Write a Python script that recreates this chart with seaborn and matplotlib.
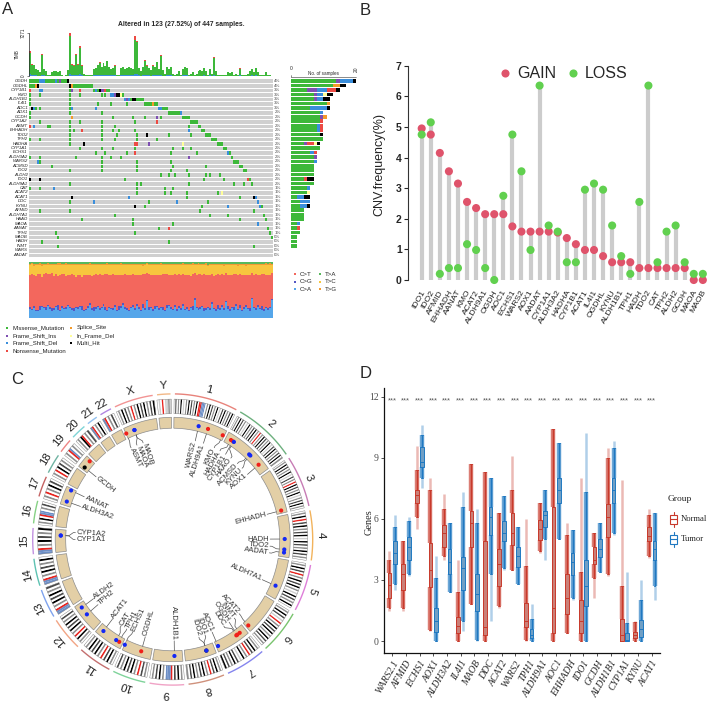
import numpy as np
import pandas as pd
import matplotlib
matplotlib.use("Agg")
import matplotlib.pyplot as plt
from matplotlib.colors import ListedColormap, to_rgb
import seaborn as sns

# ======================= DATA: panel A (oncoplot) =======================
GENES_A = ["OGDH", "OGDHL", "CYP1B1", "KMO", "ALDH1B1", "IL4I1", "AOC1", "AOX1", "GCDH", "CYP1A2",
           "ASMT", "EHHADH", "TDO2", "TPH2", "HADHA", "CYP1A1", "ECHS1", "ALDH3A2", "WARS2", "ACMSD",
           "IDO2", "ALDH2", "IDO1", "ALDH9A1", "CAT", "ACAT2", "ACAT1", "DDC", "KYNU", "AFMID",
           "ALDH7A1", "HAAO", "MAOA", "AANAT", "TPH1", "MAOB", "HADH", "INMT", "WARS", "AADAT"]
PCT_A = [4, 4, 3, 3, 3, 3, 3, 2, 2, 2, 2, 2, 2, 2, 2, 2, 2, 2, 2, 2,
         2, 2, 2, 2, 1, 1, 1, 1, 1, 1, 1, 1, 1, 1, 1, 0, 0, 0, 0, 0]
# sample columns (0..122) + variant code: M missense, I fs_ins, D fs_del, N nonsense, S splice, F inframe_del, H multi
ONCO_CELLS = [
    "0-19M 5D 6D 7D 13D 15I 19H",
    "0-2M 3S 4H 20H 21S 22-31M",
    "0N 5D 6D 20M 21I 25N 32M 33D 34M 35H 36I 37I 38N 39M 40M",
    "0M 5M 20M 25M 36M 38M 41D 42D 43I 44H 45H 46F 47M",
    "0M 20M 48D 49I 50D 51M 52H 53H 54-57M",
    "0M 20M 34M 41M 49M 58-61M 62S 63-64M",
    "1H 2D 3M 5M 20M 21D 33D 65D 66D 67-69M",
    "0M 20M 36M 70-75M 76D",
    "0M 21S 42M 52M 58M 64I 66M 77-80M",
    "5M 20M 25M 36M 53M 64N 81-84M",
    "0N 2D 9M 10M 20M 36M 43M 80M 85-86M",
    "20M 22M 26N 36M 42M 45M 53M 80D 87-88M",
    "20M 36M 44M 54M 59H 70M 81M 89-91M",
    "0M 5M 20M 36M 43M 54M 64M 92-94M",
    "20M 27H 53N 54N 60I 77F 95-97M",
    "25M 36M 42M 53M 72M 77M 81M 98-99M",
    "33M 38M 49M 53N 71M 84M 100D 101M",
    "0M 5M 23M 36M 41M 46M 80I 102M",
    "4D 5M 36M 54M 71M 103-105M",
    "11M 36M 54M 72M 89M 106-107M",
    "20M 36M 54M 71M 79M 108-109M",
    "66M 70M 73M 80M 89M 91M 96M",
    "0H 5H 48M 88M 98M 110N 111M",
    "20M 54M 56M 80M 103M 108M 112M",
    "0M 5M 12D 54M 68M 72M",
    "54M 68M 71M 79M 95M 97F",
    "21H 50D 79M 106M 113H 114D",
    "20M 32D 60M 74D 90M 115D",
    "53H 58M 87M 100D 116D 117M",
    "5M 20M 86M 113M",
    "43M 91M 100M 118M",
    "26M 52M 106M 119M",
    "52M 72M 115D",
    "65M 70N 120M",
    "13M 53M 121M",
    "14M 122M",
    "6M 70M",
    "14M 113M",
    "",
    "",
]
TMB_TOTAL = [4200, 2000, 1900, 1200, 1000, 600, 3800, 1100, 900, 200,
             100, 700, 800, 800, 700, 800, 100, 50, 100, 1000,
             7271, 2000, 1800, 3800, 2000, 5000, 1800, 300, 200, 100,
             200, 150, 1200, 1300, 1900, 2300, 1500, 2200, 1700, 2600,
             1600, 1200, 1400, 1800, 200, 100, 1300, 1500, 1200, 1300,
             1500, 1400, 1200, 6700, 6000, 1300, 800, 1500, 2700, 1800,
             1400, 1000, 1800, 1500, 2400, 1200, 3600, 1000, 300, 1500,
             1200, 1500, 400, 200, 300, 900, 200, 1100, 1500, 1400,
             100, 300, 700, 100, 300, 900, 1000, 900, 1300, 900,
             200, 1100, 300, 3200, 900, 200, 100, 100, 200, 100,
             700, 500, 700, 200, 300, 100, 1300, 200, 100, 100,
             400, 900, 1100, 700, 1300, 600, 100, 200, 100, 700,
             200, 100, 50]
TMB_FSDEL = [300, 150, 150, 100, 80, 50, 250, 90, 70, 20, 10, 60, 60, 60, 60, 60, 10, 5, 10, 80,
             400, 150, 150, 250, 150, 300, 140, 25, 20, 10, 20, 15, 100, 100, 150, 180, 120, 170, 130, 200,
             130, 100, 110, 140, 20, 10, 100, 120, 100, 100, 120, 110, 100, 400, 350, 100, 60, 120, 200, 140,
             110, 80, 140, 120, 180, 100, 250, 80, 25, 120, 100, 120, 30, 20, 25, 70, 20, 90, 120, 110,
             10, 25, 60, 10, 25, 70, 80, 70, 100, 70, 20, 90, 25, 220, 70, 20, 10, 10, 20, 10,
             60, 40, 60, 20, 25, 10, 100, 20, 10, 10, 30, 70, 90, 60, 100, 50, 10, 20, 10, 60,
             20, 10, 5]
TMB_NONSENSE = [300, 80, 60, 0, 0, 0, 300, 0, 0, 0, 0, 0, 0, 0, 0, 0, 0, 0, 0, 0,
                500, 120, 100, 250, 100, 300, 80, 0, 0, 0, 0, 0, 0, 0, 60, 80, 0, 80, 0, 100,
                0, 0, 0, 60, 0, 0, 0, 0, 0, 0, 0, 0, 0, 600, 300, 0, 0, 0, 150, 60,
                0, 0, 60, 0, 100, 0, 200, 0, 0, 0, 0, 0, 0, 0, 0, 0, 0, 0, 0, 0,
                0, 0, 0, 0, 0, 0, 0, 0, 0, 0, 0, 0, 0, 150, 0, 0, 0, 0, 0, 0,
                0, 0, 0, 0, 0, 0, 60, 0, 0, 0, 0, 0, 0, 0, 0, 0, 0, 0, 0, 0,
                0, 0, 0]
TITV_CA = [16, 14, 18, 13, 12, 15, 20, 17, 14, 22, 16, 13, 15, 19, 14, 12, 18, 16, 15, 21,
           17, 14, 13, 18, 16, 20, 15, 12, 14, 17, 23, 15, 13, 16, 19, 14, 18, 22, 15, 13,
           17, 16, 14, 20, 13, 15, 18, 24, 16, 14, 12, 17, 19, 15, 21, 16, 13, 18, 14, 30,
           15, 17, 13, 16, 20, 14, 18, 15, 12, 17, 22, 16, 14, 19, 13, 17, 15, 21, 14, 16,
           12, 18, 15, 33, 17, 14, 16, 20, 13, 15, 18, 14, 25, 16, 13, 17, 15, 19, 14, 28,
           16, 13, 18, 15, 22, 14, 17, 12, 16, 19, 15, 13, 34, 17, 14, 20, 16, 15, 13, 18,
           14, 17, 32]
TITV_CG = [3, 2, 4, 2, 3, 6, 2, 3, 5, 2, 3, 4, 2, 3, 8, 2, 3, 2, 4, 3,
           2, 3, 5, 2, 3, 2, 6, 3, 2, 4, 3, 2, 7, 3, 2, 4, 2, 3, 5, 2,
           3, 2, 4, 3, 2, 6, 3, 2, 4, 3, 2, 3, 5, 2, 4, 3, 2, 8, 3, 2,
           4, 2, 3, 5, 2, 3, 2, 4, 3, 6, 2, 3, 2, 4, 3, 5, 2, 3, 2, 4,
           3, 2, 6, 3, 2, 4, 3, 2, 5, 3, 2, 4, 3, 2, 3, 6, 2, 4, 3, 2,
           5, 3, 2, 4, 2, 3, 6, 2, 3, 4, 2, 5, 3, 2, 4, 3, 2, 6, 3, 2,
           4, 3, 2]
TITV_CT = [58, 62, 55, 60, 64, 57, 52, 59, 61, 54, 60, 63, 58, 56, 50, 62, 57, 60, 55, 53,
           58, 61, 59, 54, 57, 55, 52, 62, 60, 56, 51, 58, 57, 59, 55, 61, 56, 52, 58, 63,
           57, 59, 60, 53, 62, 56, 55, 50, 58, 60, 63, 57, 54, 59, 52, 58, 61, 54, 60, 48,
           59, 57, 61, 56, 54, 60, 57, 59, 63, 55, 52, 58, 60, 55, 61, 56, 59, 53, 60, 57,
           62, 55, 58, 46, 57, 60, 59, 54, 61, 58, 56, 60, 50, 57, 61, 56, 59, 55, 60, 49,
           56, 60, 57, 59, 53, 61, 55, 62, 58, 54, 57, 60, 45, 56, 59, 53, 58, 57, 61, 55,
           59, 57, 47]
TITV_TC = [17, 18, 16, 20, 16, 17, 19, 15, 15, 17, 16, 15, 19, 16, 20, 18, 16, 17, 19, 18,
           17, 16, 18, 20, 18, 17, 21, 17, 18, 17, 18, 19, 17, 16, 18, 15, 19, 17, 16, 17,
           18, 17, 16, 18, 17, 18, 19, 18, 16, 17, 17, 18, 16, 18, 17, 17, 18, 15, 17, 16,
           16, 18, 17, 17, 18, 17, 18, 16, 17, 16, 18, 17, 18, 16, 17, 16, 18, 17, 18, 17,
           17, 19, 16, 14, 18, 17, 16, 18, 16, 18, 17, 17, 16, 18, 17, 16, 18, 17, 16, 15,
           17, 18, 17, 16, 17, 16, 17, 18, 17, 16, 18, 17, 14, 17, 16, 18, 17, 16, 17, 18,
           17, 18, 15]
TITV_TG = [3, 2, 4, 2, 2, 3, 3, 2, 2, 3, 2, 2, 3, 2, 3, 3, 2, 2, 3, 2,
           2, 3, 2, 3, 2, 3, 2, 3, 2, 2, 3, 2, 3, 2, 3, 2, 2, 3, 2, 3,
           2, 3, 2, 3, 2, 2, 3, 2, 3, 2, 3, 2, 3, 2, 3, 2, 2, 3, 2, 2,
           3, 2, 3, 2, 3, 2, 3, 2, 2, 3, 2, 3, 2, 3, 2, 3, 2, 3, 2, 2,
           3, 2, 3, 2, 2, 3, 2, 3, 2, 3, 2, 3, 2, 2, 3, 2, 3, 2, 3, 2,
           2, 3, 2, 3, 2, 3, 2, 3, 2, 3, 2, 2, 3, 2, 3, 2, 3, 2, 2, 3,
           2, 3, 2]
TITV_TA = [3, 2, 3, 3, 3, 2, 4, 4, 3, 2, 3, 3, 3, 4, 2, 2, 4, 3, 2, 3,
           4, 3, 3, 3, 4, 3, 3, 3, 4, 4, 2, 4, 3, 4, 3, 4, 3, 3, 4, 2,
           3, 3, 4, 3, 4, 3, 2, 4, 3, 4, 3, 3, 3, 4, 3, 4, 3, 4, 3, 2,
           3, 4, 3, 4, 3, 4, 2, 4, 3, 3, 4, 3, 4, 3, 4, 3, 4, 2, 3, 4,
           3, 4, 2, 3, 4, 2, 4, 3, 3, 2, 5, 3, 4, 4, 3, 4, 3, 3, 4, 3,
           4, 3, 4, 3, 3, 4, 3, 3, 4, 4, 3, 4, 3, 4, 3, 4, 3, 4, 3, 2,
           4, 2, 3]
VC_NAMES = ["Missense_Mutation", "Frame_Shift_Ins", "Frame_Shift_Del", "Nonsense_Mutation",
            "Splice_Site", "In_Frame_Del", "Multi_Hit"]
TITV_NAMES = ["C>T", "C>G", "C>A", "T>A", "T>C", "T>G"]

# ======================= DATA: panel B (CNV lollipop) =======================
GENES_B = ["IDO1", "IDO2", "AFMID", "EHHADH", "AANAT", "KMO", "ACAT2", "ALDH9A1", "OGDH", "AOC1",
           "ECHS1", "WARS2", "AOX1", "AADAT", "CYP1A1", "ALDH3A2", "HADHA", "CYP1B1", "ACAT1", "IL4I1",
           "OGDHL", "KYNU", "ALDH1B1", "TPH1", "HADH", "TDO2", "CAT", "TPH2", "ALDH2", "GCDH",
           "MAOA", "MAOB"]
GAIN_B = [4.95, 4.75, 4.15, 3.55, 3.15, 2.55, 2.35, 2.15, 2.15, 2.15,
          1.75, 1.58, 1.58, 1.58, 1.58, 1.55, 1.37, 1.17, 0.98, 0.98,
          0.78, 0.58, 0.58, 0.58, 0.39, 0.39, 0.39, 0.39, 0.39, 0.39,
          0.0, 0.0]
LOSS_B = [4.75, 5.15, 0.2, 0.39, 0.39, 1.17, 0.98, 0.39, 0.0, 2.75,
          4.75, 3.55, 0.98, 6.35, 1.78, 1.58, 0.58, 0.58, 2.95, 3.15,
          2.95, 1.78, 0.78, 0.2, 2.55, 6.35, 0.58, 1.58, 1.78, 0.58,
          0.2, 0.2]

# ======================= DATA: panel C (circos) =======================
CHR_NAMES = [str(i) for i in range(1, 23)] + ["X", "Y"]
CHR_LEN = [249, 242, 198, 190, 181, 171, 159, 145, 138, 134, 135, 133,
           114, 107, 102, 90, 83, 80, 59, 64, 47, 51, 156, 57]
CHR_ARC_COLORS = ["#E8837B", "#6DB07E", "#C77CB5", "#F2B35C", "#DE7FD9", "#79C46E", "#8585EE", "#CF917C",
                  "#F0A3C6", "#7FD39A", "#C46F6F", "#F2A585", "#7FA3EE", "#5EC2B2", "#C291E0", "#86D184",
                  "#C46262", "#6FB3A2", "#EE8585", "#7ED4D6", "#93C2F0", "#B186E0", "#F29494", "#F2B887"]
CHR_BANDS = ["wdwgwbwlwgwbwdwgwbwrrvvvwgwbwdwgwbwlwdwbwgwdwbw",
             "wgwbwdwgwlwbwgwdwbwgwrwgwbwdwgwbwlwdwbwgwdwbwg",
             "wgwbwdwgwbwlwdwgwrwbwdwgwbwlwgwdwbwgw",
             "wgwbwrwdwbwgwdwbwlwbwdwgwbwdwgw",
             "wgwbwdwrwgwbwdwbwgwlwbwdwgwbw",
             "wgwbwdwlwrwgwbwdwbwgwbwdwgw",
             "wgwbwdwrwgwbwlwdwbwgwdwb",
             "wgwbwdwrwgwbwdwgwbwdwg",
             "wgwbwdwrvvvwgwbwdwgw",
             "wgwdwrwgwbwdwbwgwdw",
             "wgwbwdwrwgwbwdwbwgw",
             "wgwbwrwgwbwdwbwgwdw",
             "vvrwgwbwdwbwgwd",
             "vvrwgwbwdwgwbw",
             "vvrwgwbwdwgwb",
             "wgwbwrvvwgwdw",
             "wgwrwgwbwdw",
             "wgwrwbwdwgw",
             "wgwrvwgw",
             "wgwbrwgwd",
             "vrwgwbw",
             "vrwgwdw",
             "wgwbwdwgwrwgwbwdwbwgwdwb",
             "wlwrwllgl"]
CIRC_GENES = ["WARS2", "ALDH9A1", "KMO", "HADHA", "CYP1B1", "HAAO", "ACMSD", "KYNU", "AOX1", "EHHADH",
              "HADH", "TDO2", "AADAT", "ALDH7A1", "ACAT2", "INMT", "OGDH", "DDC", "AOC1", "IDO1",
              "IDO2", "ALDH1B1", "OGDHL", "ECHS1", "TPH1", "CAT", "ACAT1", "TPH2", "ALDH2", "CYP1A1",
              "CYP1A2", "ALDH3A2", "AANAT", "GCDH", "IL4I1", "ASMT", "MAOA", "MAOB"]
CIRC_CHR = ["1", "1", "1", "2", "2", "2", "2", "2", "2", "3",
            "4", "4", "4", "5", "6", "7", "7", "7", "7", "8",
            "8", "9", "10", "10", "11", "11", "11", "12", "12", "15",
            "15", "17", "17", "19", "19", "X", "X", "X"]
CIRC_POS = [119.1, 165.6, 241.5, 26.2, 38.1, 42.8, 135.4, 142.9, 200.6, 185.2,
            108.0, 155.9, 170.1, 126.5, 159.8, 30.8, 44.7, 50.5, 150.5, 39.8,
            39.9, 38.4, 49.6, 133.2, 18.0, 34.5, 108.1, 72.0, 111.8, 75.0,
            75.1, 19.6, 74.5, 12.9, 49.9, 1.6, 43.6, 43.7]
CIRC_KIND = ["loss", "gain", "gain", "gain", "gain", "loss", "loss", "loss", "gain", "gain",
             "loss", "loss", "loss", "loss", "gain", "gain", "gain", "gain", "loss", "both",
             "loss", "loss", "gain", "loss", "gain", "loss", "loss", "loss", "loss", "loss",
             "loss", "loss", "loss", "both", "gain", "gain", "loss", "loss"]
CIRC_LABELED = [True] * 34 + [False] + [True] * 3

# ======================= DATA: panel D (boxplots) =======================
GENES_D = ["WARS2.1", "AFMID", "ECHS1", "AOX1", "ALDH3A2", "IL4I1", "MAOB", "DDC", "ACAT2", "WARS2",
           "TPH1", "ALDH9A1", "AOC1", "EHHADH", "IDO1", "GCDH", "ALDH1B1", "CYP1A1", "KYNU", "ACAT1"]
# per group: [points min, whisker low, Q1, median, Q3, whisker high, points max]
NORMAL_STATS = [[1.5, 1.6, 2.1, 2.75, 3.33, 4.0, 4.4],
                [1.5, 1.6, 2.5, 3.3, 3.8, 4.9, 4.9],
                [5.5, 6.1, 6.8, 7.15, 7.4, 8.4, 9.6],
                [0.5, 0.55, 2.67, 3.5, 4.8, 7.4, 8.0],
                [4.0, 4.2, 4.64, 5.3, 5.7, 6.5, 7.2],
                [0.0, 0.0, 0.38, 0.75, 1.2, 2.4, 4.0],
                [1.8, 1.8, 4.6, 5.8, 6.4, 8.7, 8.7],
                [0.0, 0.0, 0.3, 0.7, 4.9, 8.3, 8.3],
                [1.6, 1.7, 2.7, 3.8, 4.5, 6.3, 6.3],
                [3.5, 3.5, 4.7, 5.3, 6.3, 7.4, 9.1],
                [0.0, 0.05, 0.7, 1.0, 1.85, 3.7, 6.0],
                [4.3, 4.4, 4.95, 5.5, 5.95, 6.8, 6.8],
                [0.0, 0.0, 0.38, 1.6, 6.6, 10.4, 10.4],
                [0.4, 0.4, 1.35, 2.1, 3.3, 5.2, 5.8],
                [0.0, 0.0, 0.4, 1.0, 2.0, 3.4, 8.0],
                [2.1, 3.1, 3.8, 4.0, 4.6, 5.3, 5.3],
                [3.2, 3.3, 5.1, 6.1, 6.75, 9.0, 9.5],
                [0.0, 0.0, 0.0, 0.3, 1.1, 2.7, 7.9],
                [0.0, 0.0, 0.15, 0.3, 0.45, 0.95, 1.0],
                [4.1, 4.2, 4.9, 5.15, 5.6, 6.2, 6.5]]
TUMOR_STATS = [[2.5, 2.8, 3.8, 4.3, 4.9, 5.6, 6.2],
               [3.2, 3.3, 4.0, 4.6, 5.1, 5.9, 6.1],
               [7.5, 8.0, 8.57, 8.8, 9.55, 10.1, 10.6],
               [0.0, 0.0, 0.46, 1.0, 1.6, 3.1, 4.2],
               [2.4, 2.4, 3.3, 3.9, 4.5, 5.8, 5.8],
               [0.5, 1.0, 2.5, 3.6, 4.15, 6.6, 7.3],
               [0.0, 0.05, 1.5, 2.3, 3.3, 5.8, 6.5],
               [1.0, 3.3, 5.2, 6.1, 6.6, 8.0, 8.0],
               [3.5, 3.6, 4.9, 5.3, 5.9, 7.1, 7.1],
               [2.8, 2.8, 3.65, 4.2, 4.6, 5.6, 5.6],
               [0.0, 0.0, 0.13, 0.3, 0.6, 1.1, 1.8],
               [4.0, 5.0, 5.6, 6.2, 6.4, 7.4, 7.4],
               [5.0, 5.0, 6.8, 7.4, 8.0, 9.7, 9.7],
               [2.0, 2.1, 3.25, 3.9, 4.3, 5.45, 5.45],
               [0.0, 0.0, 1.7, 2.7, 4.0, 7.3, 10.2],
               [3.4, 3.4, 4.15, 4.5, 5.0, 5.8, 5.8],
               [5.2, 5.3, 6.8, 7.4, 8.0, 9.5, 9.8],
               [0.0, 0.0, 0.0, 0.05, 0.4, 0.9, 3.4],
               [0.0, 0.0, 0.2, 0.6, 1.05, 2.0, 3.0],
               [2.0, 2.7, 4.0, 4.5, 4.9, 6.3, 6.3]]
GROUPS = ["Normal", "Tumor"]

# ======================= FIGURE =======================
sns.set_style("white")
plt.rcParams['font.family'] = ['Liberation Sans', 'DejaVu Sans']
SERIF = ['Liberation Serif', 'DejaVu Serif']

W, H = 708, 702
fig = plt.figure(figsize=(W / 100, H / 100), dpi=100)


def add_ax(x0, y0, x1, y1, **kw):
    return fig.add_axes([x0 / W, 1 - y1 / H, (x1 - x0) / W, (y1 - y0) / H], **kw)


ov = fig.add_axes([0, 0, 1, 1], zorder=20)
ov.set_xlim(0, W)
ov.set_ylim(H, 0)
ov.axis('off')

# ---------------------------------------------------------------- panel A
VC_CODES = "MIDNSFH"
VC_COLORS = ['#3DB83A', '#7E4FB2', '#3A8EDB', '#EC4A43', '#F39A2B', '#FFFF99', '#000000']
BG = '#D0D0D0'
ncol = len(TMB_TOTAL)
mat = np.zeros((len(GENES_A), ncol), dtype=int)
for gi, cells in enumerate(ONCO_CELLS):
    for tok in cells.split():
        span, kind = tok[:-1], tok[-1]
        a, _, b = span.partition('-')
        a = int(a)
        b = int(b) if b else a
        mat[gi, a:b + 1] = VC_CODES.index(kind) + 1

ax_on = add_ax(29.3, 79, 272.7, 257)
sns.heatmap(mat, ax=ax_on, cmap=ListedColormap([BG] + VC_COLORS), vmin=-0.5, vmax=7.5,
            cbar=False, xticklabels=False, yticklabels=False)
for k in range(1, len(GENES_A)):
    ax_on.axhline(k, color='white', lw=0.7)
for gi, (g, p) in enumerate(zip(GENES_A, PCT_A)):
    ax_on.text(-0.8, gi + 0.5, g, ha='right', va='center', fontsize=3.2, style='italic', color='#222222')
    ax_on.text(ncol + 0.8, gi + 0.5, f"{p}%", ha='left', va='center', fontsize=3.2, color='#444444')

xs = np.arange(ncol) + 0.5
tot = np.array(TMB_TOTAL, float)
dl = np.array(TMB_FSDEL, float)
nsn = np.array(TMB_NONSENSE, float)
ms = tot - dl - nsn
ax_t = add_ax(29.3, 33, 272.7, 76)
bar_kw = dict(width=1.0, lw=0, antialiased=False)
ax_t.bar(xs, dl, color=VC_COLORS[2], **bar_kw)
ax_t.bar(xs, ms, bottom=dl, color=VC_COLORS[0], **bar_kw)
ax_t.bar(xs, nsn, bottom=dl + ms, color=VC_COLORS[3], **bar_kw)
ax_t.set_xlim(0, ncol)
ax_t.set_ylim(0, 7271)
for s in ['top', 'right', 'bottom']:
    ax_t.spines[s].set_visible(False)
ax_t.spines['left'].set_linewidth(0.5)
ax_t.set_xticks([])
ax_t.set_yticks([0, 7271])
ax_t.set_yticklabels(['0', '7271'], fontsize=3.3, rotation=90, va='center')
ax_t.tick_params(axis='y', left=True, length=1.5, width=0.4, pad=0.8)
ax_t.set_ylabel('TMB', fontsize=3.3, labelpad=1)

ax_tv = add_ax(29.3, 262, 272.7, 318)
titv = np.array([TITV_CA, TITV_CG, TITV_CT, TITV_TC, TITV_TG, TITV_TA], float)
titv = titv / titv.sum(axis=0)
TITV_COLS = ['#55A6EA', '#5457C4', '#F3675D', '#F7C63E', '#F29A33', '#58B85C']
bot = np.zeros(ncol)
for row, col in zip(titv, TITV_COLS):
    ax_tv.bar(xs, row, bottom=bot, width=1.0, color=col, lw=0, antialiased=False)
    bot = bot + row
ax_tv.set_xlim(0, ncol)
ax_tv.set_ylim(0, 1)
ax_tv.axis('off')

ax_s = add_ax(290.7, 79, 356, 257)
for gi in range(len(GENES_A)):
    left = 0
    for code in range(1, 8):
        cnt = int((mat[gi] == code).sum())
        if cnt:
            ax_s.barh(gi + 0.5, cnt, left=left, height=0.8, color=VC_COLORS[code - 1], lw=0)
            left += cnt
ax_s.set_xlim(0, 20)
ax_s.set_ylim(len(GENES_A), 0)
ax_s.axis('off')
ov.plot([290.7, 356], [76.5, 76.5], color='#333333', lw=0.4)
ov.plot([290.7, 290.7], [75, 76.5], color='#333333', lw=0.4)
ov.text(290.7, 69, '0', fontsize=3.5, ha='center', va='center')
ov.text(356, 69, '20', fontsize=3.5, ha='center', va='center', rotation=90)
ov.text(323, 73.5, 'No. of samples', fontsize=3.3, ha='center', va='center')

ov.text(181, 24, 'Altered in 123 (27.52%) of 447 samples.', fontsize=4.9, fontweight='bold',
        ha='center', va='center')
for i, (nm, col) in enumerate(zip(VC_NAMES, VC_COLORS)):
    cx_ = [7.3, 70.7][0 if i < 4 else 1]
    cy_ = 328 + (i if i < 4 else i - 4) * 7.6
    ov.scatter([cx_], [cy_], s=4, marker='s', color=col, lw=0)
    ov.text(cx_ + 5.5, cy_, nm, fontsize=4.3, va='center', ha='left', color='#222222')
TITV_LEG_COLS = ['#F3675D', '#5457C4', '#55A6EA', '#58B85C', '#F7C63E', '#F29A33']
for i, (nm, col) in enumerate(zip(TITV_NAMES, TITV_LEG_COLS)):
    cx_ = [295, 320][i // 3]
    cy_ = 274 + (i % 3) * 7.6
    ov.scatter([cx_], [cy_], s=4, marker='s', color=col, lw=0)
    ov.text(cx_ + 5, cy_, nm, fontsize=4.4, va='center', ha='left', color='#222222')

# ---------------------------------------------------------------- panel B
ax_b = add_ax(408, 56.5, 708, 287.65)
nb = len(GENES_B)
xb = np.arange(nb)
ax_b.vlines(xb, 0, np.maximum(GAIN_B, LOSS_B), color='#CCCCCC', lw=3, zorder=1)
dfb = pd.DataFrame({'x': np.concatenate([xb, xb]), 'v': GAIN_B + LOSS_B,
                    't': ['GAIN'] * nb + ['LOSS'] * nb})
sns.scatterplot(data=dfb, x='x', y='v', hue='t', palette={'GAIN': '#DF536B', 'LOSS': '#61D04F'},
                s=34, linewidth=0, legend=False, ax=ax_b, zorder=3)
ax_b.set_xlim(-1.51, 31.57)
ax_b.set_ylim(-0.25, 7.3)
for s in ['top', 'right', 'bottom']:
    ax_b.spines[s].set_visible(False)
ax_b.spines['left'].set_bounds(0, 7)
ax_b.spines['left'].set_linewidth(0.8)
ax_b.spines['left'].set_color('#333333')
ax_b.set_yticks(range(8))
ax_b.set_yticklabels([str(i) for i in range(8)], fontsize=7.5, fontweight='bold')
ax_b.tick_params(axis='y', left=True, length=3, width=0.8, pad=1.5)
ax_b.set_xticks([])
ax_b.set_xlabel('')
ax_b.set_ylabel('')
for i, g in enumerate(GENES_B):
    ax_b.text(i + 0.2, -0.35, g, rotation=60, ha='right', va='center', rotation_mode='anchor',
              fontsize=6.1, color='#222222')
ov.text(379, 164.5, 'CNV.frequency(%)', rotation=90, ha='center', va='center', fontsize=9, color='#222222')
ov.scatter([504.7], [73], s=34, color='#DF536B', lw=0)
ov.scatter([573], [73], s=34, color='#61D04F', lw=0)
ov.text(517, 73, 'GAIN', fontsize=11.5, va='center', ha='left')
ov.text(585, 73, 'LOSS', fontsize=11.5, va='center', ha='left')

# ---------------------------------------------------------------- panel C
cxc, cyc, SY = 172.7, 539.5, 1.04
GAP = 1.2
scale = (360 - GAP * len(CHR_LEN)) / sum(CHR_LEN)
starts = []
acc = GAP / 2
for L in CHR_LEN:
    starts.append(acc)
    acc += L * scale + GAP


def pol(th, r):
    t = np.deg2rad(th)
    return cxc + r * np.sin(t), cyc - SY * r * np.cos(t)


def seg(t0, t1, r0, r1, **kw):
    th = np.linspace(t0, t1, max(3, int(abs(t1 - t0) * 3) + 2))
    xo, yo = pol(th, r1)
    xi, yi = pol(th[::-1], r0)
    ov.fill(np.r_[xo, xi], np.r_[yo, yi], **kw)


BAND_COL = {'w': '#FFFFFF', 'l': '#CFCFCF', 'g': '#8F8F8F', 'd': '#4A4A4A', 'b': '#000000',
            'r': '#E8231E', 'v': '#6C8EC6'}
R_ARC, R_ID0, R_ID1, R_T0, R_T1, R_LAB = 140, 121, 135, 107, 117.5, 148.5
for ci, (nm, L) in enumerate(zip(CHR_NAMES, CHR_LEN)):
    s0 = starts[ci]
    s1 = s0 + L * scale
    pat = CHR_BANDS[ci]
    bw = (s1 - s0) / len(pat)
    for k, ch in enumerate(pat):
        seg(s0 + k * bw, s0 + (k + 1) * bw, R_ID0, R_ID1, facecolor=BAND_COL[ch], edgecolor='none', lw=0)
    seg(s0, s1, R_ID0, R_ID1, facecolor='none', edgecolor='#777777', lw=0.3)
    seg(s0, s1, R_T0, R_T1, facecolor='#E3CFA6', edgecolor='#8C8C8C', lw=0.5)
    th = np.linspace(s0 + 0.3, s1 - 0.3, 60)
    ax_, ay_ = pol(th, R_ARC)
    ov.plot(ax_, ay_, color=CHR_ARC_COLORS[ci], lw=1.0, solid_capstyle='butt')
    mid = (s0 + s1) / 2
    lx, ly = pol(mid, R_LAB)
    ov.text(lx, ly, nm, rotation=-mid, ha='center', va='center', rotation_mode='anchor',
            fontsize=8.2, color='#222222')

theta = [starts[CHR_NAMES.index(c)] + p * scale for c, p in zip(CIRC_CHR, CIRC_POS)]
KIND_COL = {'gain': '#F0201A', 'loss': '#1428F5', 'both': '#000000'}
px, py = pol(np.array(theta), 112)
ov.scatter(px, py, s=9, c=[KIND_COL[k] for k in CIRC_KIND], lw=0, zorder=5)

lab_idx = sorted([i for i in range(len(CIRC_GENES)) if CIRC_LABELED[i]], key=lambda i: theta[i])
la = np.array([theta[i] for i in lab_idx], float)
SEP = 3.8
for _ in range(300):
    moved = False
    for k in range(1, len(la)):
        d = la[k] - la[k - 1]
        if d < SEP - 1e-6:
            sh = (SEP - d) / 2
            la[k - 1] -= sh
            la[k] += sh
            moved = True
    if not moved:
        break
for i, tl in zip(lab_idx, la):
    tg = theta[i]
    p1 = pol(tg, R_T0)
    p2 = pol(tg, 104)
    p3 = pol(tl, 99.5)
    p4 = pol(tl, 97.5)
    ov.plot([p1[0], p2[0], p3[0], p4[0]], [p1[1], p2[1], p3[1], p4[1]], color='#555555', lw=0.5)
    tx, ty = pol(tl, 96.5)
    if tl < 180:
        rot, ha = 90 - tl, 'right'
    else:
        rot, ha = 270 - tl, 'left'
    ov.text(tx, ty, CIRC_GENES[i], rotation=rot, ha=ha, va='center', rotation_mode='anchor',
            fontsize=5.5, color='#333333')

# ---------------------------------------------------------------- panel D
COL_D = {'Normal': '#C8392B', 'Tumor': '#1F78C1'}


def tint(c, f):
    r = np.array(to_rgb(c))
    return tuple(r + (1 - r) * f)


rows_cloud, rows_box = [], []
for g, st_n, st_t in zip(GENES_D, NORMAL_STATS, TUMOR_STATS):
    for grp, st in (('Normal', st_n), ('Tumor', st_t)):
        plo, wlo, q1, med, q3, whi, phi = st
        for v in (plo, q1, med, q3, phi):
            rows_cloud.append((g, grp, v))
        for v in (wlo, q1, med, q3, whi):
            rows_box.append((g, grp, v))
df_cloud = pd.DataFrame(rows_cloud, columns=['gene', 'group', 'value'])
df_box = pd.DataFrame(rows_box, columns=['gene', 'group', 'value'])

ax_d = add_ax(384, 388.5, 660, 653.3)
common = dict(x='gene', y='value', hue='group', order=GENES_D, hue_order=GROUPS, dodge=True,
              width=0.8, gap=0.3, whis=(0, 100), legend=False, ax=ax_d)
for grp in GROUPS:
    c = COL_D[grp]
    sns.boxplot(data=df_cloud[df_cloud.group == grp], fill=False, palette={g: COL_D[g] for g in GROUPS},
                showcaps=False, linewidth=1.8, boxprops={'linewidth': 0}, medianprops={'linewidth': 0},
                whiskerprops={'alpha': 0.35}, **common)
    sns.boxplot(data=df_box[df_box.group == grp], fill=True, palette={g: tint(COL_D[g], 0.3) for g in GROUPS},
                linecolor=c, showcaps=False, boxprops={'linewidth': 0}, medianprops={'linewidth': 0},
                whiskerprops={'linewidth': 3.2, 'alpha': 0.65}, **common)
    sns.boxplot(data=df_box[df_box.group == grp], fill=False, palette={g: COL_D[g] for g in GROUPS},
                linewidth=0.7, **common)
for i in range(len(GENES_D)):
    ax_d.text(i, 11.8, '***', ha='center', va='center', fontsize=5.5, color='#555555')
ax_d.set_xlim(-0.6, 19.6)
ax_d.set_ylim(-0.6, 12.4)
for s in ['top', 'right']:
    ax_d.spines[s].set_visible(False)
for s in ['left', 'bottom']:
    ax_d.spines[s].set_linewidth(0.9)
    ax_d.spines[s].set_color('#111111')
ax_d.set_yticks([0, 3, 6, 9, 12])
ax_d.set_yticklabels(['0', '3', '6', '9', '12'], fontsize=7, color='#4D4D4D', family=SERIF)
ax_d.set_xticks(range(len(GENES_D)))
ax_d.set_xticklabels(GENES_D, rotation=60, ha='right', rotation_mode='anchor', fontsize=7,
                     style='italic', family=SERIF)
ax_d.tick_params(axis='both', left=True, bottom=True, length=2.5, width=0.6, color='#333333', pad=1.5)
ax_d.set_xlabel('')
ax_d.set_ylabel('')
ov.text(369, 522, 'Genes', rotation=90, ha='center', va='center', fontsize=7.5, family=SERIF)
ov.text(668, 499, 'Group', ha='left', va='center', fontsize=6.8, family=SERIF)
for grp, yc in (('Normal', 519), ('Tumor', 539)):
    c = COL_D[grp]
    ov.add_patch(plt.Rectangle((670, yc - 4.5), 7, 9, facecolor='white', edgecolor=c, lw=0.8))
    ov.plot([670, 677], [yc, yc], color=c, lw=0.8)
    ov.plot([673.5, 673.5], [yc - 7.5, yc - 4.5], color=c, lw=0.8)
    ov.plot([673.5, 673.5], [yc + 4.5, yc + 7.5], color=c, lw=0.8)
    ov.text(681, yc, grp, ha='left', va='center', fontsize=6.2, family=SERIF)

# ---------------------------------------------------------------- panel letters
ov.text(2, 2, 'A', fontsize=12, va='top', ha='left')
ov.text(360, 3, 'B', fontsize=12, va='top', ha='left')
ov.text(11, 372, 'C', fontsize=12, va='top', ha='left')
ov.text(360, 366, 'D', fontsize=12, va='top', ha='left')

fig.savefig('out.png', dpi=100)
